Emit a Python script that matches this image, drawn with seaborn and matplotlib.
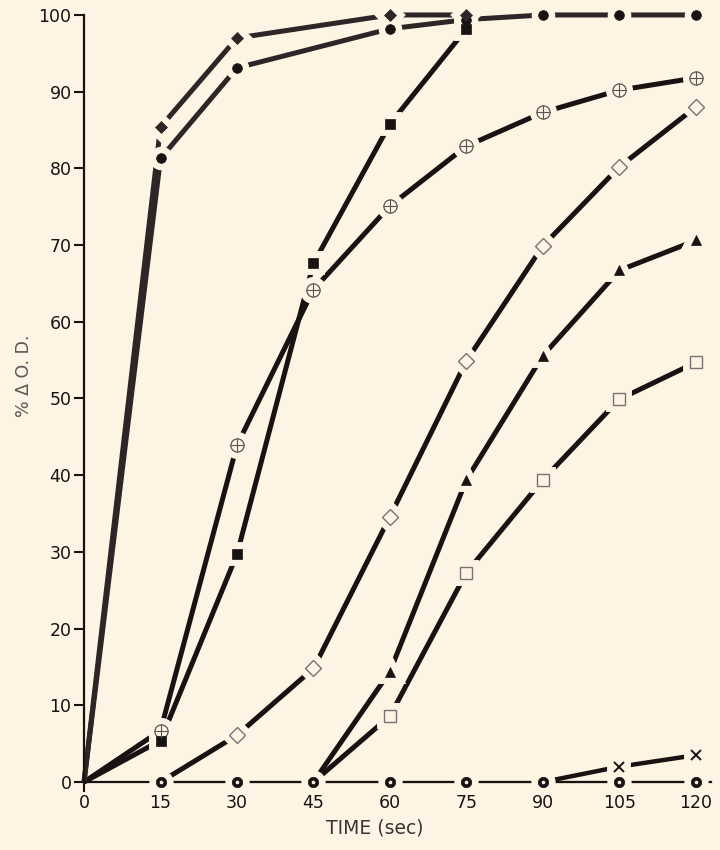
import matplotlib
matplotlib.use("Agg")
import matplotlib.pyplot as plt
import seaborn as sns

# --- data (time in sec, % change in O.D.) ---
t_dia_fill = [0, 15, 30, 60, 75]
v_dia_fill = [0, 85.4, 97.0, 100, 100]

t_circ_fill = [0, 15, 30, 60, 75, 90, 105, 120]
v_circ_fill = [0, 81.3, 93.1, 98.2, 99.4, 100, 100, 100]

t_sq_fill = [0, 15, 30, 45, 60, 75]
v_sq_fill = [0, 5.4, 29.7, 67.6, 85.8, 98.2]

t_circ_plus = [0, 15, 30, 45, 60, 75, 90, 105, 120]
v_circ_plus = [0, 6.7, 43.9, 64.2, 75.1, 82.9, 87.3, 90.2, 91.8]

t_dia_open = [15, 30, 45, 60, 75, 90, 105, 120]
v_dia_open = [0, 6.1, 14.8, 34.6, 54.9, 69.9, 80.2, 88.0]

t_tri = [45, 60, 75, 90, 105, 120]
v_tri = [0, 14.4, 39.4, 55.6, 66.7, 70.6]

t_sq_open = [45, 60, 75, 90, 105, 120]
v_sq_open = [0, 8.6, 27.3, 39.4, 49.9, 54.7]

t_x = [90, 105, 120]
v_x = [0, 2.0, 3.5]

t_bull = [15, 30, 45, 60, 75, 90, 105, 120]
v_bull = [0, 0, 0, 0, 0, 0, 0, 0]

x_ticks = [0, 15, 30, 45, 60, 75, 90, 105, 120]
y_ticks = [0, 10, 20, 30, 40, 50, 60, 70, 80, 90, 100]

bg = "#fdf4e3"
ink = "#181212"
grey_ink = "#2e2626"

sns.set_style("ticks", {"axes.facecolor": bg, "figure.facecolor": bg})
plt.rcParams["font.family"] = ["DejaVu Sans"]

fig = plt.figure(figsize=(7.2, 8.5), dpi=100)
ax = fig.add_axes([0.1167, 0.08, 0.871, 0.9024])

# (t, v, line colour, line width, marker, marker size (pt), face, edge, edge width)
series = [
    (t_bull, v_bull, ink, 1.5, "o", 7.5, ink, ink, 0.5),
    (t_x, v_x, ink, 3.2, "x", 7, ink, ink, 1.4),
    (t_sq_open, v_sq_open, ink, 3.6, "s", 8.5, bg, "#7a7272", 1.0),
    (t_tri, v_tri, ink, 3.6, "^", 7.5, ink, ink, 0.5),
    (t_dia_open, v_dia_open, ink, 3.6, "D", 8, bg, "#7a7272", 1.0),
    (t_circ_plus, v_circ_plus, ink, 3.6, "o", 9.5, bg, "#5a5454", 0.9),
    (t_sq_fill, v_sq_fill, ink, 3.6, "s", 7.2, ink, ink, 0.5),
    (t_circ_fill, v_circ_fill, grey_ink, 3.6, "o", 7, ink, ink, 0.5),
    (t_dia_fill, v_dia_fill, grey_ink, 3.6, "D", 6.3, grey_ink, grey_ink, 0.5),
]

# lines first
for tt, vv, col, lw, mk, ms, fc, ec, mew in series:
    sns.lineplot(x=tt, y=vv, ax=ax, color=col, lw=lw, estimator=None,
                 sort=False, zorder=2, clip_on=False, solid_capstyle="butt")


def marked(tt, vv):
    # the zero points where a curve leaves the baseline carry no symbol of their own
    if tt is t_bull:
        return list(tt), list(vv)
    keep = [(a, b) for a, b in zip(tt, vv) if b > 0]
    return [k[0] for k in keep], [k[1] for k in keep]


# cream halos so each line breaks around the symbols
for tt, vv, col, lw, mk, ms, fc, ec, mew in series:
    px, py = marked(tt, vv)
    halo = "s" if mk == "x" else mk
    ax.plot(px, py, ls="none", marker=halo, ms=ms, mfc=bg, mec=bg, mew=10,
            zorder=3, clip_on=False)

# symbols
for tt, vv, col, lw, mk, ms, fc, ec, mew in series:
    px, py = marked(tt, vv)
    ax.plot(px, py, ls="none", marker=mk, ms=ms, mfc=fc, mec=ec, mew=mew,
            zorder=4, clip_on=False)
    if tt is t_circ_plus:
        ax.plot(px, py, ls="none", marker="+", ms=9.5, mec=ec, mew=0.8,
                zorder=5, clip_on=False)
    if tt is t_bull:
        ax.plot(px, py, ls="none", marker="o", ms=2.6, mfc=bg, mec=bg, mew=0,
                zorder=5, clip_on=False)

ax.set_xlim(0, 123)
ax.set_ylim(0, 100)
ax.set_xticks(x_ticks)
ax.set_yticks(y_ticks)
ax.tick_params(axis="both", colors=ink, labelsize=12.5, width=1.5, length=7,
               direction="out", pad=2)
sns.despine(ax=ax)
for side in ["left", "bottom"]:
    ax.spines[side].set_linewidth(1.6)
    ax.spines[side].set_color(ink)

ax.set_xlabel("TIME (sec)", fontsize=13.5, color="#3a3434")
ax.set_ylabel("% \u0394 O. D.", fontsize=12.5, color="#5a5454")
ax.xaxis.set_label_coords(0.464, -0.047)
ax.yaxis.set_label_coords(-0.082, 0.53)

plt.savefig("out.png", dpi=100, facecolor=bg)
